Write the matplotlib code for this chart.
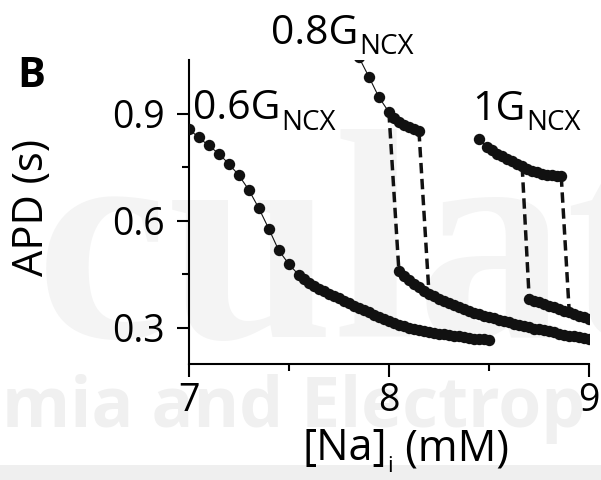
import matplotlib
matplotlib.use("Agg")
import matplotlib.pyplot as plt
from matplotlib.patches import Rectangle

# ---------------- data ----------------
na_06 = [7.00, 7.05, 7.10, 7.15, 7.20, 7.25, 7.30, 7.35, 7.40, 7.45, 7.50, 7.55,
         7.575, 7.600, 7.625, 7.650, 7.675, 7.700, 7.725, 7.750, 7.775, 7.800,
         7.825, 7.850, 7.875, 7.900, 7.925, 7.950, 7.975, 8.000, 8.025, 8.050,
         8.075, 8.100, 8.125, 8.150, 8.175, 8.200, 8.225, 8.250, 8.275, 8.300,
         8.325, 8.350, 8.375, 8.400, 8.425, 8.450, 8.475, 8.500]
apd_06 = [0.858, 0.833, 0.811, 0.788, 0.760, 0.728, 0.687, 0.636, 0.578, 0.517, 0.479, 0.448,
          0.437, 0.426, 0.417, 0.409, 0.402, 0.396, 0.390, 0.383, 0.376, 0.369,
          0.362, 0.355, 0.349, 0.343, 0.337, 0.331, 0.326, 0.320, 0.314, 0.309,
          0.305, 0.300, 0.297, 0.294, 0.291, 0.288, 0.286, 0.284, 0.282, 0.280,
          0.278, 0.276, 0.274, 0.272, 0.270, 0.269, 0.268, 0.267]

na_08_up = [7.85, 7.90, 7.95, 8.00, 8.025, 8.05, 8.075, 8.10, 8.125, 8.15]
apd_08_up = [1.058, 1.003, 0.946, 0.904, 0.888, 0.877, 0.869, 0.862, 0.856, 0.851]

na_08_low = [8.050, 8.075, 8.100, 8.125, 8.150, 8.175, 8.200, 8.225, 8.250, 8.275,
             8.300, 8.325, 8.350, 8.375, 8.400, 8.425, 8.450, 8.475, 8.500, 8.525,
             8.550, 8.575, 8.600, 8.625, 8.650, 8.675, 8.700, 8.725, 8.750, 8.775,
             8.800, 8.825, 8.850, 8.875, 8.900, 8.925, 8.950, 8.975, 9.000]
apd_08_low = [0.458, 0.444, 0.433, 0.422, 0.413, 0.404, 0.396, 0.389, 0.382, 0.376,
              0.369, 0.364, 0.358, 0.352, 0.347, 0.342, 0.338, 0.334, 0.330, 0.327,
              0.323, 0.319, 0.315, 0.311, 0.308, 0.304, 0.301, 0.298, 0.296, 0.293,
              0.290, 0.287, 0.284, 0.281, 0.278, 0.276, 0.273, 0.271, 0.269]

na_10_up = [8.450, 8.490, 8.515, 8.540, 8.565, 8.590, 8.615, 8.640, 8.665, 8.690,
            8.715, 8.740, 8.765, 8.790, 8.815, 8.840, 8.860]
apd_10_up = [0.830, 0.806, 0.797, 0.788, 0.780, 0.773, 0.766, 0.759, 0.752, 0.746,
             0.740, 0.735, 0.731, 0.729, 0.727, 0.725, 0.724]

na_10_low = [8.700, 8.725, 8.750, 8.775, 8.800, 8.825, 8.850, 8.875, 8.900, 8.925,
             8.950, 8.975, 9.000]
apd_10_low = [0.382, 0.376, 0.371, 0.367, 0.362, 0.358, 0.353, 0.348, 0.343, 0.338,
              0.333, 0.329, 0.325]

# transitions between branches (dashed)
trans_na = [[8.00, 8.05], [8.15, 8.20], [8.665, 8.70], [8.86, 8.90]]
trans_apd = [[0.904, 0.458], [0.851, 0.396], [0.752, 0.382], [0.724, 0.343]]

x_ticks = [7, 8, 9]
x_minor = [7.5, 8.5]
y_ticks = [0.3, 0.6, 0.9]
y_tick_labels = ["0.3", "0.6", "0.9"]
y_minor = [0.45, 0.75]

# ---------------- figure ----------------
W, H = 601, 480
plt.rcParams["font.family"] = ["Open Sans", "DejaVu Sans"]
fig = plt.figure(figsize=(W / 100, H / 100), dpi=100)


def px(x, y):
    return (x / W, 1 - y / H)


# background decorations (faint journal watermark and bottom band)
fig.patches.append(Rectangle((0, 0), 1, 15 / H, transform=fig.transFigure,
                             facecolor="#efefef", edgecolor="none", zorder=-3))
fig.text(*px(2, 427), "mia and Electrop", fontsize=50, fontweight="bold",
         color="#f0f0f0", zorder=-2, ha="left", va="baseline")
fig.text(*px(36, 337), "culat", family=["Liberation Serif"], fontweight="bold",
         fontsize=215, color="#f4f4f4", zorder=-2, ha="left", va="baseline")

ax = fig.add_axes([188.5 / W, 116.5 / H, (589.3 - 188.5) / W, (363.5 - 60) / H])
ax.set_facecolor("none")

for tx, ty in zip(trans_na, trans_apd):
    ax.plot(tx, ty, color="#111111", lw=2.5, linestyle=(0, (3, 1.6)),
            solid_capstyle="butt", zorder=2)

for xs, ys in [(na_06, apd_06), (na_08_up, apd_08_up), (na_08_low, apd_08_low),
               (na_10_up, apd_10_up), (na_10_low, apd_10_low)]:
    ax.plot(xs, ys, "-", color="#111111", lw=0.8, marker="o", ms=8.2,
            mfc="#111111", mec="#111111", mew=0, zorder=3)

ax.set_xlim(7, 9)
ax.set_ylim(0.2, 1.05)
ax.set_xticks(x_ticks)
ax.set_xticks(x_minor, minor=True)
ax.set_yticks(y_ticks)
ax.set_yticklabels(y_tick_labels)
ax.set_yticks(y_minor, minor=True)
ax.tick_params(which="major", length=9, width=1.5, direction="out", labelsize=27,
               colors="black")
ax.tick_params(which="minor", length=5, width=1.5, direction="out")
ax.tick_params(axis="x", which="major", pad=4)
ax.tick_params(axis="y", which="major", pad=8)
for s in ["top", "right"]:
    ax.spines[s].set_visible(False)
for s in ["left", "bottom"]:
    ax.spines[s].set_linewidth(1.5)

renderer = fig.canvas.get_renderer()


def chain(x0, y0, pieces, **kw):
    x = x0
    for s, size, dy in pieces:
        t = fig.text(x / W, 1 - (y0 + dy) / H, s, fontsize=size,
                     ha="left", va="baseline", **kw)
        bb = t.get_window_extent(renderer=renderer)
        x = bb.x1 + 1


chain(193, 119, [("0.6G", 29.5, 0), ("NCX", 20, 10.5)])
chain(271, 43.5, [("0.8G", 29.5, 0), ("NCX", 20, 10.5)])
chain(472, 120, [("1G", 29.5, 0), ("NCX", 20, 10.5)])
chain(302, 460, [("[Na]", 31, 0), ("i", 16, 12), (" (mM)", 31, 0)])

fig.text(*px(17, 86.7), "B", fontsize=30, fontweight="bold", ha="left", va="baseline")
fig.text(*px(32, 208), "APD (s)", rotation=90, ha="center", va="center", fontsize=30)

fig.savefig("out.png", dpi=100)
